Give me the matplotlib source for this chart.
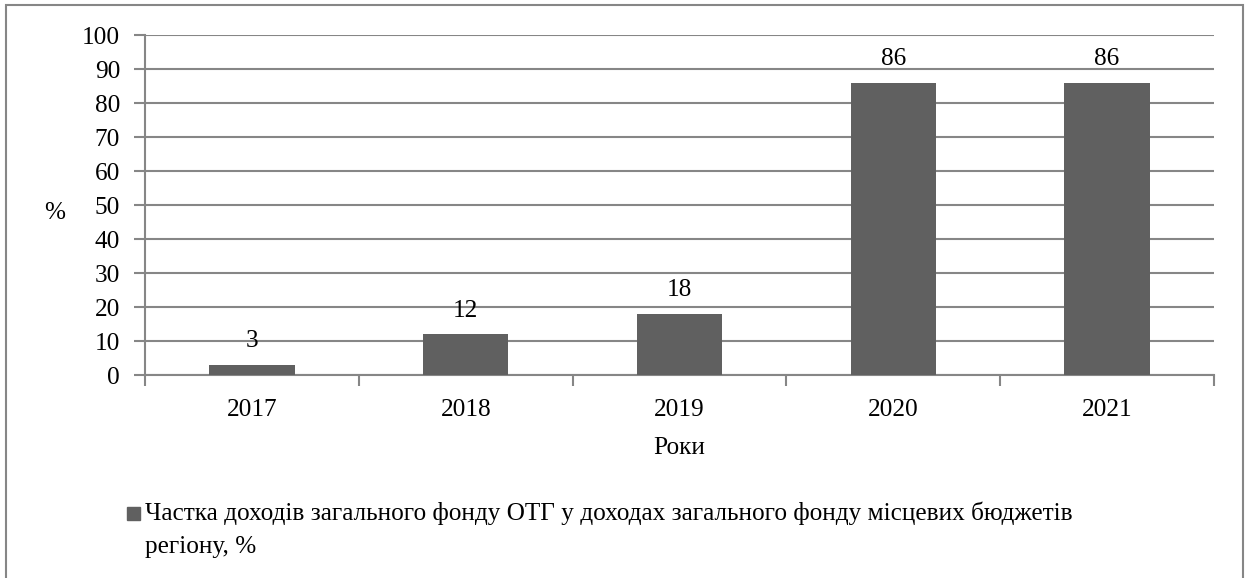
import matplotlib.pyplot as plt
from matplotlib.patches import Rectangle

years = ["2017", "2018", "2019", "2020", "2021"]
share = [3, 12, 18, 86, 86]
series_name = ("Частка доходів загального фонду ОТГ у доходах загального фонду місцевих бюджетів\n"
               "регіону, %")
y_ticks = list(range(0, 101, 10))

plt.rcParams['font.family'] = 'serif'
plt.rcParams['font.serif'] = ['Liberation Serif', 'DejaVu Serif']
FONT = 'Liberation Serif'
FS = 18.2

bar_color = "#606060"
grid_color = "#868686"

fig = plt.figure(figsize=(12.46, 5.78), dpi=100)
ax = fig.add_axes([145/1246, 1 - 375/578, (1214 - 145)/1246, (375 - 35)/578])

x = list(range(len(years)))
bars = ax.bar(x, share, width=0.4, color=bar_color, zorder=3)
ax.bar_label(bars, labels=[str(v) for v in share], padding=9, fontsize=FS, family=FONT)

ax.set_xlim(-0.5, len(years) - 0.5)
ax.set_ylim(0, 100)
ax.set_yticks(y_ticks)
ax.set_xticks(x)
ax.set_xticklabels(years, family=FONT)
ax.set_yticklabels([str(v) for v in y_ticks], family=FONT)
ax.set_xticks([i - 0.5 for i in range(len(years) + 1)], minor=True)
ax.tick_params(axis='x', which='major', length=0, labelsize=FS, pad=17)
ax.tick_params(axis='x', which='minor', length=8, width=1.5, color=grid_color, direction='out')
ax.tick_params(axis='y', length=8, width=1.5, color=grid_color, labelsize=FS, pad=10)
ax.grid(axis='y', color=grid_color, linewidth=1.5, zorder=0)

for s in ['top', 'right']:
    ax.spines[s].set_visible(False)
for s in ['left', 'bottom']:
    ax.spines[s].set_color(grid_color)
    ax.spines[s].set_linewidth(1.5)

ax.set_ylabel("%", fontsize=FS, rotation=0, family=FONT, va='center', ha='center')
ax.yaxis.set_label_coords(-0.085, (375 - 213) / 340)
ax.set_xlabel("Роки", fontsize=FS, labelpad=12, family=FONT)

# legend
fig.patches.append(Rectangle((127/1246, 1 - 520/578), 13/1246, 13/578,
                             transform=fig.transFigure, color=bar_color))
fig.text(145/1246, 1 - 530/578, series_name, fontsize=FS, va='center',
         ha='left', linespacing=1.65, family=FONT)

# outer frame
fig.patches.append(Rectangle((6/1246, -0.02), 1237/1246, (578 - 5)/578 + 0.02,
                             transform=fig.transFigure, fill=False,
                             edgecolor=grid_color, linewidth=1.5))

fig.savefig("out.png", dpi=100)
